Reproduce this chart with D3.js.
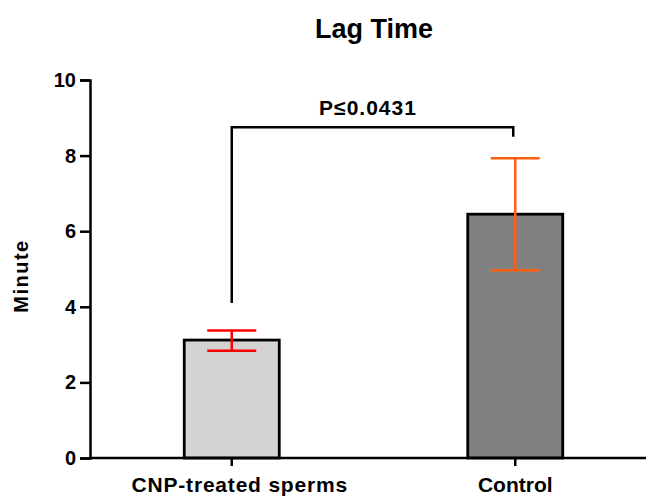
<html>
<head>
<script src="https://cdnjs.cloudflare.com/ajax/libs/d3/7.8.5/d3.min.js"></script>
<style>
body { margin: 0; background: #fff; }
svg { font-family: 'Liberation Sans', Arial, sans-serif; font-weight: bold; }
</style>
</head>
<body>
<svg width="648" height="497"></svg>
<script>
// data
var groups = ["CNP-treated sperms", "Control"];
var means = [3.12, 6.45];
var errLow = [2.84, 4.97];
var errHigh = [3.37, 7.93];
var barColors = ["#d3d3d3", "#808080"];
var errColors = ["#ff0000", "#ff5f0f"];
var yTicks = [0, 2, 4, 6, 8, 10];
var pLabel = "P\u22640.0431";
var bracketLeft = 4.1, bracketRight = 8.5, bracketTop = 8.75;

var svg = d3.select("svg");

var y = d3.scaleLinear().domain([0, 10]).range([458, 80]);
var x = d3.scalePoint().domain(groups).range([90, 657]).padding(0.5);
var barW = 95, capW = 49;

// title
svg.append("text").attr("x", 374).attr("y", 38)
	.attr("text-anchor", "middle").style("font-size", "27px")
	.text("Lag Time");

// y axis
var yAxis = svg.append("g").attr("transform", "translate(90,0)")
	.call(d3.axisLeft(y).tickValues(yTicks).tickSize(10).tickPadding(4).tickFormat(d3.format("d")));
yAxis.select(".domain").attr("stroke", "#000").attr("stroke-width", 2.5);
yAxis.selectAll(".tick line").attr("stroke", "#000").attr("stroke-width", 2.5);
yAxis.selectAll(".tick text").style("font-size", "20px").style("font-weight", "bold")
	.style("font-family", "'Liberation Sans', Arial, sans-serif").attr("fill", "#000");

svg.append("text")
	.attr("transform", "translate(28,276) rotate(-90)")
	.attr("text-anchor", "middle").style("font-size", "20px").style("letter-spacing", "1.5px")
	.text("Minute");

// bars
svg.selectAll("rect.bar").data(means).enter().append("rect")
	.attr("class", "bar")
	.attr("x", function (d, i) { return x(groups[i]) - barW / 2; })
	.attr("y", function (d) { return y(d); })
	.attr("width", barW)
	.attr("height", function (d) { return y(0) - y(d); })
	.attr("fill", function (d, i) { return barColors[i]; })
	.attr("stroke", "#000").attr("stroke-width", 2.8);

// error bars
groups.forEach(function (g, i) {
	var cx = x(g);
	var e = svg.append("g").attr("stroke", errColors[i]).attr("stroke-width", 2.5);
	e.append("line").attr("x1", cx).attr("x2", cx).attr("y1", y(errLow[i])).attr("y2", y(errHigh[i]));
	e.append("line").attr("x1", cx - capW / 2).attr("x2", cx + capW / 2).attr("y1", y(errLow[i])).attr("y2", y(errLow[i]));
	e.append("line").attr("x1", cx - capW / 2).attr("x2", cx + capW / 2).attr("y1", y(errHigh[i])).attr("y2", y(errHigh[i]));
});

// x axis
svg.append("line").attr("x1", 89).attr("x2", 646).attr("y1", y(0)).attr("y2", y(0))
	.attr("stroke", "#000").attr("stroke-width", 2.5);
groups.forEach(function (g, i) {
	svg.append("line").attr("x1", x(g)).attr("x2", x(g)).attr("y1", y(0)).attr("y2", y(0) + 8)
		.attr("stroke", "#000").attr("stroke-width", 2.5);
	svg.append("text").attr("x", x(g) + (i == 0 ? 8 : 0)).attr("y", 492)
		.attr("text-anchor", "middle").style("font-size", "21px")
		.style("letter-spacing", i == 0 ? "0.8px" : "0px")
		.text(g);
});

// significance bracket
var bx1 = x(groups[0]), bx2 = x(groups[1]) - 2;
svg.append("path")
	.attr("d", "M" + bx1 + "," + y(bracketLeft) + "V" + y(bracketTop) + "H" + bx2 + "V" + y(bracketRight))
	.attr("fill", "none").attr("stroke", "#000").attr("stroke-width", 2.5);
svg.append("text").attr("x", 368).attr("y", 115)
	.attr("text-anchor", "middle").style("font-size", "21px").style("letter-spacing", "1px")
	.text(pLabel);
</script>
</body>
</html>
